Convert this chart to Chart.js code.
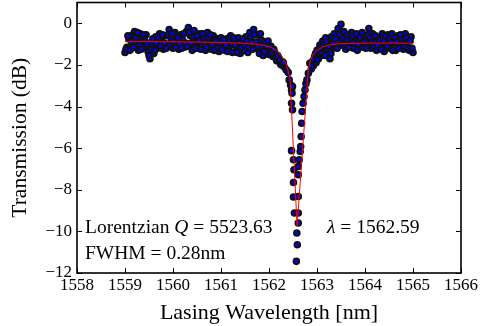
<!DOCTYPE html>
<html>
<head>
<meta charset="utf-8">
<script src="https://cdn.jsdelivr.net/npm/chart.js@4.4.1/dist/chart.umd.min.js"></script>
<style>
  html, body { margin: 0; padding: 0; background: #fff; }
  #wrap { width: 480px; height: 326px; }
</style>
</head>
<body>
<div id="wrap"><canvas id="c" width="480" height="326"></canvas></div>
<script>
// measured scan, [wavelength nm, transmission dB]
const leftShoulder = [
  [1559.00,-1.40],[1559.04,-1.15],[1559.08,-0.75],[1559.12,-1.25],[1559.16,-0.55],[1559.20,-0.40],
  [1559.24,-0.95],[1559.28,-1.30],[1559.32,-0.50],[1559.36,-0.80],[1559.40,-1.10],[1559.44,-0.55],
  [1559.48,-1.35],[1559.52,-1.70],[1559.56,-1.00],[1559.60,-1.45],[1559.64,-0.65],[1559.68,-1.20],
  [1559.72,-0.50],[1559.76,-0.85],[1559.80,-1.25],[1559.84,-0.60],[1559.88,-1.05],[1559.92,-0.30],
  [1559.96,-0.75],[1560.00,-1.20],[1560.04,-0.45],[1560.08,-0.95],[1560.12,-1.25],[1560.16,-0.55],
  [1560.20,-0.80],[1560.24,-1.15],[1560.28,-0.40],[1560.32,-0.20],[1560.36,-0.60],[1560.40,-1.30],
  [1560.44,-0.35],[1560.48,-0.90],[1560.52,-1.20],[1560.56,-0.50],[1560.60,-1.05],[1560.64,-0.70],
  [1560.68,-1.30],[1560.72,-0.45],[1560.76,-0.85],[1560.80,-1.25],[1560.84,-0.60],[1560.88,-1.10],
  [1560.92,-0.75],[1560.96,-1.35],[1561.00,-0.70],[1561.04,-1.00],[1561.08,-1.30],[1561.12,-0.75],
  [1561.16,-1.15],[1561.20,-0.60],[1561.24,-1.40],[1561.28,-0.85],[1561.32,-1.20],[1561.36,-0.70],
  [1561.40,-1.45],[1561.44,-0.95],[1561.48,-1.30],[1561.52,-0.65],[1561.56,-1.40],[1561.60,-0.45],
  [1561.64,-0.90],[1561.68,-0.30],[1561.72,-1.20],[1561.76,-0.55],[1561.80,-1.45],[1561.84,-0.80],
  [1561.88,-1.55],[1561.92,-0.90],[1561.96,-1.30],[1562.00,-1.50],[1562.04,-1.10],[1562.08,-1.60],
  [1562.12,-1.40],[1562.16,-1.80],[1562.20,-1.65],[1562.24,-1.95],[1562.28,-1.85],[1562.32,-2.10]
];
const leftShoulderB = [
  [1559.02,-1.25],[1559.06,-0.60],[1559.10,-1.30],[1559.14,-0.90],[1559.18,-1.15],[1559.22,-0.70],
  [1559.26,-0.45],[1559.30,-1.05],[1559.34,-1.25],[1559.38,-0.55],[1559.42,-0.85],[1559.46,-1.00],
  [1559.50,-1.55],[1559.54,-1.25],[1559.58,-0.75],[1559.62,-1.30],[1559.66,-0.95],[1559.70,-0.70],
  [1559.74,-1.10],[1559.78,-0.55],[1559.82,-0.95],[1559.86,-1.20],[1559.90,-0.55],[1559.94,-1.00],
  [1559.98,-0.50],[1560.02,-0.90],[1560.06,-1.15],[1560.10,-0.70],[1560.14,-1.00],[1560.18,-1.20],
  [1560.22,-0.50],[1560.26,-0.95],[1560.30,-1.10],[1560.34,-0.45],[1560.38,-0.95],[1560.42,-0.65],
  [1560.46,-1.20],[1560.50,-0.60],[1560.54,-0.85],[1560.58,-1.25],[1560.62,-0.50],[1560.66,-0.95],
  [1560.70,-1.15],[1560.74,-0.70],[1560.78,-0.55],[1560.82,-1.00],[1560.86,-1.30],[1560.90,-0.85],
  [1560.94,-1.15],[1560.98,-0.95],[1561.02,-1.25],[1561.06,-0.80],[1561.10,-1.05],[1561.14,-1.35],
  [1561.18,-0.85],[1561.22,-1.00],[1561.26,-0.70],[1561.30,-1.05],[1561.34,-1.40],[1561.38,-0.95],
  [1561.42,-1.15],[1561.46,-0.75],[1561.50,-1.05],[1561.54,-0.85],[1561.58,-1.15],[1561.62,-0.65],
  [1561.66,-1.25],[1561.70,-0.55],[1561.74,-0.90],[1561.78,-1.10],[1561.82,-0.50],[1561.86,-1.15],
  [1561.90,-1.35],[1561.94,-1.10],[1561.98,-0.85],[1562.02,-1.35],[1562.06,-1.45],[1562.10,-1.25],
  [1562.14,-1.60],[1562.18,-1.55],[1562.22,-1.80],[1562.26,-2.00],[1562.30,-1.90]
];
const dipPoints = [
  [1562.36,-2.24],[1562.40,-2.36],[1562.42,-2.72],[1562.45,-2.96],[1562.47,-3.20],[1562.48,-3.36],
  [1562.49,-3.04],[1562.47,-3.84],[1562.49,-4.16],[1562.47,-6.12],[1562.51,-6.56],[1562.52,-7.04],
  [1562.51,-7.65],[1562.51,-8.35],[1562.53,-9.12],[1562.58,-10.08],[1562.59,-10.64],[1562.57,-11.44],
  [1562.61,-9.60],[1562.61,-9.12],[1562.61,-8.32],[1562.61,-7.28],[1562.61,-6.88],[1562.63,-6.56],
  [1562.65,-6.16],[1562.66,-5.92],[1562.67,-5.44],[1562.68,-4.80],[1562.69,-4.24],[1562.71,-3.84],
  [1562.73,-3.52],[1562.75,-3.20],[1562.77,-2.90],[1562.79,-2.72],[1562.82,-2.40],[1562.85,-1.92]
];
const rightShoulder = [
  [1562.88,-2.20],[1562.90,-1.85],[1562.92,-2.05],[1562.95,-1.60],[1562.98,-1.90],[1563.00,-1.30],
  [1563.03,-1.70],[1563.06,-1.05],[1563.09,-1.55],[1563.12,-0.85],[1563.15,-1.30],[1563.18,-0.70],
  [1563.21,-1.45],[1563.24,-0.95],[1563.27,-1.70],[1563.30,-0.65],[1563.33,-1.20],[1563.36,-0.50],
  [1563.40,-0.95],[1563.44,-0.25],[1563.48,-0.70],[1563.50,-0.05],[1563.52,-1.05],[1563.56,-0.40],
  [1563.60,-1.25],[1563.64,-0.55],[1563.68,-0.90],[1563.72,-0.45],[1563.76,-1.20],[1563.80,-0.65],
  [1563.84,-1.30],[1563.88,-0.55],[1563.92,-1.00],[1563.96,-1.15],[1564.00,-0.60],[1564.04,-0.95],
  [1564.08,-0.25],[1564.12,-1.20],[1564.16,-0.50],[1564.20,-0.85],[1564.24,-1.30],[1564.28,-0.70],
  [1564.32,-1.10],[1564.36,-0.50],[1564.40,-1.35],[1564.44,-0.80],[1564.48,-0.55],[1564.52,-1.20],
  [1564.56,-0.50],[1564.60,-0.95],[1564.64,-1.30],[1564.68,-0.60],[1564.72,-1.05],[1564.76,-0.75],
  [1564.80,-1.25],[1564.84,-0.50],[1564.88,-0.90],[1564.92,-1.30],[1564.96,-0.65],[1565.00,-1.40]
];
const rightShoulderB = [
  [1562.89,-2.05],[1562.93,-1.75],[1562.97,-1.45],[1563.01,-1.75],[1563.05,-1.40],[1563.08,-1.20],
  [1563.11,-1.45],[1563.14,-1.05],[1563.17,-1.55],[1563.20,-0.90],[1563.23,-1.25],[1563.26,-1.10],
  [1563.29,-1.45],[1563.32,-0.90],[1563.35,-1.00],[1563.38,-0.75],[1563.42,-1.20],[1563.46,-0.55],
  [1563.50,-0.85],[1563.54,-0.70],[1563.58,-0.95],[1563.62,-0.80],[1563.66,-1.15],[1563.70,-0.75],
  [1563.74,-0.60],[1563.78,-0.95],[1563.82,-0.50],[1563.86,-1.00],[1563.90,-0.70],[1563.94,-0.45],
  [1563.98,-0.90],[1564.02,-1.20],[1564.06,-0.55],[1564.10,-0.70],[1564.14,-0.95],[1564.18,-1.10],
  [1564.22,-0.60],[1564.26,-1.05],[1564.30,-0.80],[1564.34,-1.25],[1564.38,-0.85],[1564.42,-0.60],
  [1564.46,-1.10],[1564.50,-0.75],[1564.54,-0.90],[1564.58,-1.30],[1564.62,-0.70],[1564.66,-0.90],
  [1564.70,-1.20],[1564.74,-0.55],[1564.78,-0.95],[1564.82,-1.10],[1564.86,-0.70],[1564.90,-1.20],
  [1564.94,-0.85],[1564.98,-1.20]
];

// Lorentzian fit as drawn
const fitWl = [1559.0, 1559.5, 1560.0, 1560.5, 1561.0, 1561.4, 1561.7, 1561.9, 1562.0, 1562.1, 1562.2,
  1562.28, 1562.34, 1562.39, 1562.44, 1562.585, 1562.82, 1562.86, 1562.92, 1563.0, 1563.13, 1563.3,
  1563.5, 1563.8, 1564.2, 1564.6, 1565.0];
const fitDb = [-0.88, -0.88, -0.89, -0.90, -0.92, -0.95, -1.00, -1.06, -1.12, -1.22, -1.40,
  -1.62, -1.88, -2.20, -2.72, -9.75, -2.20, -1.80, -1.48, -1.30, -1.12, -1.02,
  -0.98, -0.96, -0.95, -0.95, -0.96];

const xTicks = [1558, 1559, 1560, 1561, 1562, 1563, 1564, 1565, 1566];
const yTicks = [0, -2, -4, -6, -8, -10, -12];

const qValue = "5523.63";
const lambdaValue = "1562.59";
const fwhmValue = "0.28nm";

const serif = "'Liberation Serif', 'DejaVu Serif', serif";

function drawRich(ctx, parts, x, y) {
    parts.forEach(([txt, italic]) => {
        ctx.font = (italic ? "italic " : "") + "19.5px " + serif;
        ctx.fillText(txt, x, y);
        x += ctx.measureText(txt).width;
    });
}

const frameTicks = {
    id: "frameTicks",
    afterDatasetsDraw(chart) {
        const {ctx, chartArea: a, scales: {x, y}} = chart;
        ctx.save();
        ctx.strokeStyle = "#000";
        ctx.lineWidth = 1;
        ctx.beginPath();
        xTicks.forEach(v => {
            const px = Math.round(x.getPixelForValue(v)) + 0.5;
            ctx.moveTo(px, a.bottom); ctx.lineTo(px, a.bottom - 5);
            ctx.moveTo(px, a.top); ctx.lineTo(px, a.top + 5);
        });
        yTicks.forEach(v => {
            const py = Math.round(y.getPixelForValue(v)) + 0.5;
            ctx.moveTo(a.left, py); ctx.lineTo(a.left + 5, py);
            ctx.moveTo(a.right, py); ctx.lineTo(a.right - 5, py);
        });
        ctx.stroke();
        ctx.lineWidth = 1.6;
        ctx.strokeRect(a.left, a.top, a.right - a.left, a.bottom - a.top);

        ctx.fillStyle = "#000";
        ctx.textBaseline = "middle";
        ctx.textAlign = "left";
        drawRich(ctx, [["Lorentzian ", false], ["Q", true], [" = " + qValue, false]], a.left + 8, 228);
        drawRich(ctx, [["\u03bb", true], [" = " + lambdaValue, false]], 327, 228);
        drawRich(ctx, [["FWHM = " + fwhmValue, false]], a.left + 8, 254);
        ctx.restore();
    }
};

const scan = leftShoulder.concat(leftShoulderB, dipPoints, rightShoulder, rightShoulderB)
    .map(([w, d]) => ({x: w, y: d}));
const fit = fitWl.map((w, i) => ({x: w, y: fitDb[i]}));

new Chart(document.getElementById("c"), {
    type: "scatter",
    data: {
        datasets: [
            {
                label: "fit",
                data: fit,
                showLine: true,
                borderColor: "#ff0000",
                borderWidth: 1,
                pointRadius: 0,
                order: 0
            },
            {
                label: "data",
                data: scan,
                backgroundColor: "#0000ff",
                borderColor: "#111",
                borderWidth: 2,
                pointRadius: 2.8,
                order: 1
            }
        ]
    },
    options: {
        responsive: false,
        devicePixelRatio: 1,
        animation: false,
        events: [],
        layout: {autoPadding: false, padding: {left: 0, right: 19, top: 2.5, bottom: 0}},
        plugins: {legend: {display: false}, tooltip: {enabled: false}},
        scales: {
            x: {
                type: "linear",
                min: 1558,
                max: 1566,
                afterBuildTicks: s => { s.ticks = xTicks.map(v => ({value: v})); },
                afterFit: s => { s.height = 53; s.paddingLeft = 0; s.paddingRight = 0; },
                grid: {display: false, drawTicks: false},
                border: {display: false},
                ticks: {
                    callback: v => String(v),
                    color: "#000",
                    font: {family: serif, size: 17},
                    padding: 2,
                    maxRotation: 0,
                    autoSkip: false
                },
                title: {
                    display: true,
                    text: "Lasing Wavelength [nm]",
                    color: "#000",
                    font: {family: serif, size: 22},
                    padding: {top: 1, bottom: 0}
                }
            },
            y: {
                type: "linear",
                min: -12,
                max: 1,
                afterBuildTicks: s => { s.ticks = yTicks.map(v => ({value: v})); },
                afterFit: s => { s.width = 77; s.paddingTop = 0; s.paddingBottom = 0; },
                grid: {display: false, drawTicks: false},
                border: {display: false},
                ticks: {
                    callback: v => (v < 0 ? "\u2212" + Math.abs(v) : String(v)),
                    color: "#000",
                    font: {family: serif, size: 17},
                    padding: 5,
                    autoSkip: false
                },
                title: {
                    display: true,
                    text: "Transmission (dB)",
                    color: "#000",
                    font: {family: serif, size: 21.5},
                    padding: {top: 7, bottom: 0}
                }
            }
        }
    },
    plugins: [frameTicks]
});
</script>
</body>
</html>
